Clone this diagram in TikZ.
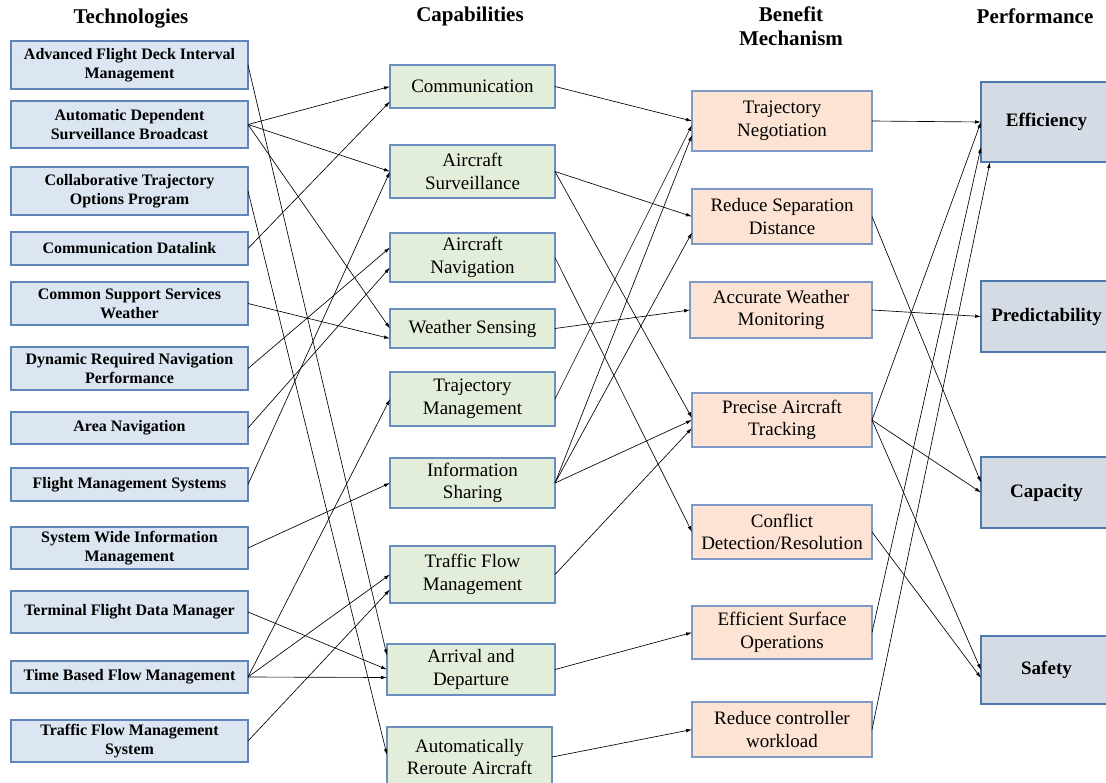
\documentclass[tikz,border=0pt]{standalone}
\usepackage{fontspec}
\setmainfont{Liberation Serif}
\usetikzlibrary{arrows.meta}
\definecolor{techfill}{HTML}{DCE6F2}
\definecolor{techdraw}{HTML}{5E84B8}
\definecolor{capfill}{HTML}{E2EEDA}
\definecolor{capdraw}{HTML}{6A8EBE}
\definecolor{benfill}{HTML}{FCE3D4}
\definecolor{bendraw}{HTML}{7D9AC6}
\definecolor{perffill}{HTML}{D5DBE5}
\definecolor{perfdraw}{HTML}{4E78AD}
\begin{document}
\begin{tikzpicture}[x=1pt,y=-1pt,
  basebox/.style={draw, line width=1.1pt, align=center, inner sep=0pt, outer sep=0pt},
  techbox/.style={basebox, fill=techfill, draw=techdraw, font=\fontsize{16}{19}\selectfont\bfseries, minimum width=237pt},
  capbox/.style={basebox, fill=capfill, draw=capdraw, font=\fontsize{19}{22.7}\selectfont, minimum width=165pt},
  benbox/.style={basebox, fill=benfill, draw=bendraw, font=\fontsize{19}{22.7}\selectfont, minimum width=180pt},
  perfbox/.style={basebox, fill=perffill, draw=perfdraw, font=\fontsize{19}{23}\selectfont\bfseries, minimum width=131pt},
  hdr/.style={align=center, font=\fontsize{21}{24}\selectfont\bfseries, inner sep=0pt},
  arr/.style={-{Latex[length=6pt,width=3.6pt]}, line width=0.65pt}]
\useasboundingbox (0,0) rectangle (1106,782);
% headers
\node[hdr] (h1) at (131,19) {Technologies};
\node[hdr] (h2) at (470,16) {Capabilities};
\node[hdr] (h3) at (791,26) {Benefit\\Mechanism};
\node[hdr] (h4) at (1035,16) {Performance};
% technologies
\node[techbox, minimum height=48pt] (afdim) at (129.5,65) {Advanced Flight Deck Interval\\Management};
\node[techbox, minimum height=47pt] (adsb) at (129.5,124.5) {Automatic Dependent\\Surveillance Broadcast};
\node[techbox, minimum height=48pt] (ctop) at (129.5,191) {Collaborative Trajectory\\Options Program};
\node[techbox, minimum height=33pt] (cdl) at (129.5,248.5) {Communication Datalink};
\node[techbox, minimum height=43pt] (cssw) at (129.5,303.5) {Common Support Services\\Weather};
\node[techbox, minimum height=43pt] (drnp) at (129.5,368.5) {Dynamic Required Navigation\\Performance};
\node[techbox, minimum height=32pt] (rnav) at (129.5,428) {Area Navigation};
\node[techbox, minimum height=33pt] (fms) at (129.5,484.5) {Flight Management Systems};
\node[techbox, minimum height=42pt] (swim) at (129.5,548) {System Wide Information\\Management};
\node[techbox, minimum height=42pt] (tfdm) at (129.5,612) {Terminal Flight Data Manager};
\node[techbox, minimum height=32pt] (tbfm) at (129.5,677) {Time Based Flow Management};
\node[techbox, minimum height=42pt] (tfms) at (129.5,741) {Traffic Flow Management\\System};
% capabilities
\node[capbox, minimum height=43pt] (comm) at (472.5,86.5) {Communication};
\node[capbox, minimum height=53pt] (as) at (472.5,171.5) {Aircraft\\Surveillance};
\node[capbox, minimum height=49pt] (an) at (472.5,257.5) {Aircraft\\Navigation};
\node[capbox, minimum height=39pt] (ws) at (472.5,328.5) {Weather Sensing};
\node[capbox, minimum height=54pt] (tm) at (472.5,399) {Trajectory\\Management};
\node[capbox, minimum height=50pt] (is) at (472.5,483) {Information\\Sharing};
\node[capbox, minimum height=57pt] (tfm) at (472.5,574.5) {Traffic Flow\\Management};
\node[capbox, minimum height=51pt, minimum width=168pt] (ad) at (471,669.5) {Arrival and\\Departure};
\node[capbox, minimum height=60pt] (ar) at (469.5,757) {Automatically\\Reroute Aircraft};
% benefit mechanisms
\node[benbox, minimum height=60pt] (tn) at (782,121) {Trajectory\\Negotiation};
\node[benbox, minimum height=55pt] (rsd) at (782,216.5) {Reduce Separation\\Distance};
\node[benbox, minimum height=56pt, minimum width=182pt] (awm) at (781,310) {Accurate Weather\\Monitoring};
\node[benbox, minimum height=54pt] (pat) at (782,420) {Precise Aircraft\\Tracking};
\node[benbox, minimum height=54pt] (cd) at (782,532) {Conflict\\Detection/Resolution};
\node[benbox, minimum height=53pt] (eso) at (782,632.5) {Efficient Surface\\Operations};
\node[benbox, minimum height=55pt] (rcw) at (782,729.5) {Reduce controller\\workload};
% performance
\node[perfbox, minimum height=80pt] (eff) at (1046.5,122) {Efficiency};
\node[perfbox, minimum height=71pt] (pred) at (1046.5,316.5) {Predictability};
\node[perfbox, minimum height=71pt] (capy) at (1046.5,492.5) {Capacity};
\node[perfbox, minimum height=68pt] (safe) at (1046.5,670) {Safety};
% technologies -> capabilities
\draw[arr] (adsb.east) -- (comm.west);
\draw[arr] (cdl.east) -- ([yshift=-15pt]comm.west);
\draw[arr] (adsb.east) -- (as.west);
\draw[arr] (fms.east) -- (as.west);
\draw[arr] (drnp.east) -- ([yshift=10pt]an.west);
\draw[arr] (rnav.east) -- ([yshift=-10pt]an.west);
\draw[arr] (adsb.east) -- (ws.west);
\draw[arr] (cssw.east) -- ([yshift=-10pt]ws.west);
\draw[arr] (tbfm.east) -- (tm.west);
\draw[arr] (swim.east) -- (is.west);
\draw[arr] (tbfm.east) -- (tfm.west);
\draw[arr] (tfms.east) -- ([yshift=-15pt]tfm.west);
\draw[arr] (afdim.east) -- ([yshift=14pt]ad.west);
\draw[arr] (tfdm.east) -- (ad.west);
\draw[arr] (tbfm.east) -- ([yshift=-8pt]ad.west);
\draw[arr] (ctop.east) -- ([yshift=2pt]ar.west);
% capabilities -> benefits
\draw[arr] (comm.east) -- (tn.west);
\draw[arr] (tm.east) -- ([yshift=-4pt]tn.west);
\draw[arr] (is.east) -- ([yshift=-14pt]tn.west);
\draw[arr] (as.east) -- (rsd.west);
\draw[arr] (is.east) -- ([yshift=-16pt]rsd.west);
\draw[arr] (ws.east) -- (awm.west);
\draw[arr] (as.east) -- ([yshift=2pt]pat.west);
\draw[arr] (is.east) -- (pat.west);
\draw[arr] (tfm.east) -- ([yshift=-8pt]pat.west);
\draw[arr] (an.east) -- (cd.west);
\draw[arr] (ad.east) -- (eso.west);
\draw[arr] (ar.east) -- (rcw.west);
% benefits -> performance
\draw[arr] (tn.east) -- (eff.west);
\draw[arr] (pat.east) -- (eff.west);
\draw[arr] (eso.east) -- ([yshift=-25pt]eff.west);
\draw[arr] (rcw.east) -- ([xshift=9pt]eff.south west);
\draw[arr] (awm.east) -- (pred.west);
\draw[arr] (rsd.east) -- ([yshift=10pt]capy.west);
\draw[arr] (pat.east) -- (capy.west);
\draw[arr] (pat.east) -- (safe.west);
\draw[arr] (cd.east) -- ([yshift=-8pt]safe.west);
\end{tikzpicture}
\end{document}
